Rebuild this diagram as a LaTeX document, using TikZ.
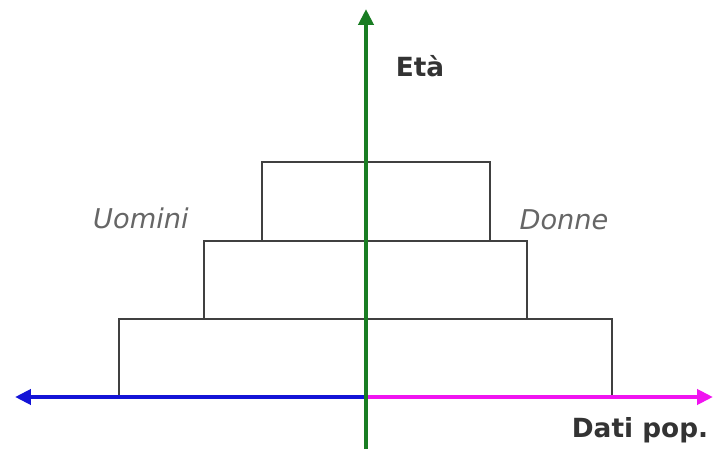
\documentclass[tikz,border=0pt]{standalone}
\usepackage{fontspec}
\setmainfont{DejaVu Sans}
\usepackage{xcolor}
\usetikzlibrary{arrows.meta,positioning}
\definecolor{axisgreen}{RGB}{25,125,35}
\definecolor{axisblue}{RGB}{20,20,215}
\definecolor{axismagenta}{RGB}{240,20,240}

\begin{document}
\begin{tikzpicture}[
    x=0.02cm, y=-0.02cm,
    bar/.style={
        rectangle,
        draw=black!75,
        line width=1pt,
        inner sep=0pt,
        anchor=south west
    },
    axis_label/.style={
        font=\bfseries\fontsize{15}{17}\selectfont,
        text=black!80
    },
    side_label/.style={
        font=\itshape\fontsize{15.5}{18}\selectfont,
        text=black!60
    },
    axis_edge/.style={
        -{Triangle[length=0.32cm,width=0.3cm]},
        line width=2.4pt
    }
]
    \useasboundingbox (0,0) rectangle (727,459);

    % ====== piramide: tre fasce di età ======
    \node[bar, minimum width=9.86cm, minimum height=1.54cm] (band_low) at (118,397) {};
    \node[bar, minimum width=6.46cm, minimum height=1.56cm] (band_mid) at (203,320) {};
    \node[bar, minimum width=4.56cm, minimum height=1.58cm] (band_top) at (261,242) {};

    % punti degli assi
    \coordinate (origin) at (366,397);
    \coordinate (x_left) at (15,397);
    \coordinate (x_right) at (713,397);
    \coordinate (y_top) at (366,9);
    \coordinate (y_bottom) at (366,449);

    % ====== assi ======
    \draw[axis_edge, draw=axisblue, fill=axisblue] (origin) -- (x_left);
    \draw[axis_edge, draw=axismagenta, fill=axismagenta] (origin) -- (x_right);
    \draw[axis_edge, draw=axisgreen, fill=axisgreen] (y_bottom) -- (y_top);

    % etichette
    \node[axis_label] (eta) at (420,66) {Età};
    \node[axis_label] (dati) at (640,430) {Dati pop.};
    \node[side_label] (uomini) at (141,218) {Uomini};
    \node[side_label] (donne) at (564,220) {Donne};

\end{tikzpicture}
\end{document}
